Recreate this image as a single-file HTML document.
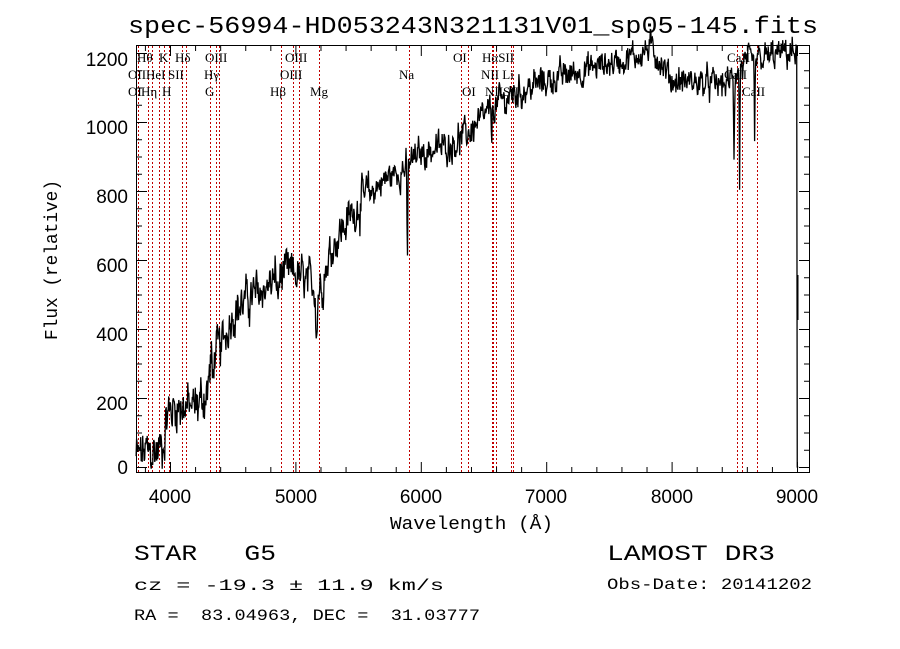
<!DOCTYPE html>
<html><head><meta charset="utf-8"><style>
body{margin:0;background:#fff}
svg{display:block}
text{font-family:"Liberation Sans",sans-serif;fill:#000;white-space:pre}
.s{font-family:"Liberation Serif",serif;font-size:13px}
.m{font-family:"Liberation Mono",monospace}
</style></head><body>
<svg id="c" width="900" height="649" viewBox="0 0 900 649" xmlns="http://www.w3.org/2000/svg">
<rect width="900" height="649" fill="#fff"/>
<text x="128" y="33" class="m" font-size="24" textLength="690" lengthAdjust="spacingAndGlyphs">spec-56994-HD053243N321131V01_sp05-145.fits</text>
<g id="red" stroke="#c00000" stroke-width="1" stroke-dasharray="2,2"></g>
<g id="ticks" stroke="#000" stroke-width="1"></g>
<polyline id="sp" fill="none" stroke="#000" stroke-width="1.3"/>
<rect x="136.5" y="45.5" width="673" height="427" fill="none" stroke="#000" stroke-width="1"/>
<g class="s">
<text x="137" y="62" class="s">Hθ</text><text x="159" y="62" class="s">K</text><text x="175" y="62" class="s">Hδ</text><text x="205" y="62" class="s">OIII</text><text x="285" y="62" class="s">OIII</text>
<text x="128" y="79" class="s">OII</text><text x="146" y="79" class="s">HeI</text><text x="168" y="79" class="s">SII</text><text x="204" y="79" class="s">Hγ</text><text x="280" y="79" class="s">OIII</text>
<text x="128" y="96" class="s">OI</text><text x="141" y="96" class="s">Hη</text><text x="162" y="96" class="s">H</text><text x="205" y="96" class="s">G</text><text x="270" y="96" class="s">Hβ</text><text x="310" y="96" class="s">Mg</text>
<text x="453" y="62" class="s">OI</text><text x="482" y="62" class="s">HαSII</text><text x="399" y="79" class="s">Na</text><text x="481" y="79" class="s">NII Li</text>
<text x="462" y="96" class="s">OI</text><text x="485" y="96" class="s">NIISII</text>
<text x="727" y="62" class="s">CaII</text><text x="724" y="79" class="s">CaII</text><text x="742" y="96" class="s">CaII</text>
</g>
<g font-size="19">
<text x="128" y="66" text-anchor="end">1200</text><text x="128" y="134" text-anchor="end">1000</text><text x="128" y="203" text-anchor="end">800</text><text x="128" y="272" text-anchor="end">600</text><text x="128" y="341" text-anchor="end">400</text><text x="128" y="410" text-anchor="end">200</text><text x="128" y="474" text-anchor="end">0</text>
<text x="170" y="503" text-anchor="middle">4000</text><text x="296" y="503" text-anchor="middle">5000</text><text x="421" y="503" text-anchor="middle">6000</text><text x="546" y="503" text-anchor="middle">7000</text><text x="672" y="503" text-anchor="middle">8000</text><text x="797" y="503" text-anchor="middle">9000</text>
</g>
<text x="390" y="529" class="m" font-size="18" textLength="163" lengthAdjust="spacingAndGlyphs">Wavelength (Å)</text>
<text transform="translate(57,340) rotate(-90)" class="m" font-size="18" textLength="160" lengthAdjust="spacingAndGlyphs">Flux (relative)</text>
<text x="134" y="560" class="m" font-size="22" textLength="142" lengthAdjust="spacingAndGlyphs">STAR   G5</text>
<text x="607" y="560" class="m" font-size="22" textLength="168" lengthAdjust="spacingAndGlyphs">LAMOST DR3</text>
<text x="134" y="590" class="m" font-size="16" textLength="310" lengthAdjust="spacingAndGlyphs">cz = -19.3 ± 11.9 km/s</text>
<text x="607" y="589" class="m" font-size="16" textLength="205" lengthAdjust="spacingAndGlyphs">Obs-Date: 20141202</text>
<text x="134" y="620" class="m" font-size="16" textLength="346" lengthAdjust="spacingAndGlyphs">RA =  83.04963, DEC =  31.03777</text>
</svg>
<script>
var NS="http://www.w3.org/2000/svg";
function X(l){return 170+(l-4000)*0.1254;}
function Y(f){return 467-f*0.345;}
var red=document.getElementById('red');
[138,148,152,159,164,169,182,186,210,216,219,281,293,299,319,409,461,468,492,493,496,511,513,737,742,757].forEach(function(x){
var l=document.createElementNS(NS,'line');l.setAttribute('x1',x+.5);l.setAttribute('x2',x+.5);l.setAttribute('y1',46);l.setAttribute('y2',472);red.appendChild(l);});
var tk=document.getElementById('ticks');
function ln(a,b,c,d){var l=document.createElementNS(NS,'line');l.setAttribute('x1',a);l.setAttribute('y1',b);l.setAttribute('x2',c);l.setAttribute('y2',d);tk.appendChild(l);}
for(var l=3800;l<=9100;l+=200){var x=X(l)+.5,big=l%1000==0;ln(x,472,x,big?462:467);ln(x,46,x,big?56:51);}
for(var f=0;f<=1200;f+=50){var y=Y(f)+.5,big=f%200==0;if(y<46)continue;ln(137,y,big?147:142,y);ln(809,y,big?799:804,y);}
var K=[[3730,30],[3800,40],[3900,45],[3950,70],[3975,150],[4050,180],[4200,170],[4300,220],[4330,320],[4400,340],[4500,450],[4600,480],[4800,530],[4900,560],[5000,560],[5100,530],[5200,520],[5300,650],[5500,760],[5700,830],[5880,870],[6000,910],[6200,930],[6350,960],[6500,1010],[6600,1050],[6800,1090],[7000,1120],[7200,1140],[7500,1170],[7700,1190],[7850,1215],[7950,1150],[8000,1120],[8200,1115],[8300,1110],[8450,1110],[8550,1160],[8700,1180],[8900,1200],[9000,1200]];
function base(l){for(var i=0;i<K.length-1;i++){if(l<=K[i+1][0]){var t=(l-K[i][0])/(K[i+1][0]-K[i][0]);return K[i][1]+t*(K[i+1][1]-K[i][1]);}}return 1210;}
var dips=[[5170,130,8],[5893,280,5],[6563,90,6],[8498,230,4],[8542,330,4],[8662,260,4],[4340,90,6],[4861,70,6]];
var s=12345;function r(){s=(s*1103515245+12345)%2147483648;return s/2147483648-0.5;}
var pts=[];var w=0;
for(var l=3730;l<=9000;l+=4){var f=base(l);var amp=l<4400?90:(l<5600?80:(l<7000?60:55));
w=0.6*w+r()*amp;f+=w+r()*amp*0.7;
dips.forEach(function(d){var z=(l-d[0])/d[2];f-=d[1]*Math.exp(-z*z);});
pts.push(X(l).toFixed(1)+','+Y(Math.max(f,-5)).toFixed(1));}
pts.push(X(9002)+','+Y(0));pts.push(X(9005)+','+Y(0));pts.push(X(9010)+','+Y(0));
document.getElementById('sp').setAttribute('points',pts.join(' '));
var p2=document.createElementNS(NS,'line');p2.setAttribute('x1',798);p2.setAttribute('x2',798);p2.setAttribute('y1',275);p2.setAttribute('y2',320);p2.setAttribute('stroke','#000');document.getElementById('c').appendChild(p2);
</script>
</body></html>
